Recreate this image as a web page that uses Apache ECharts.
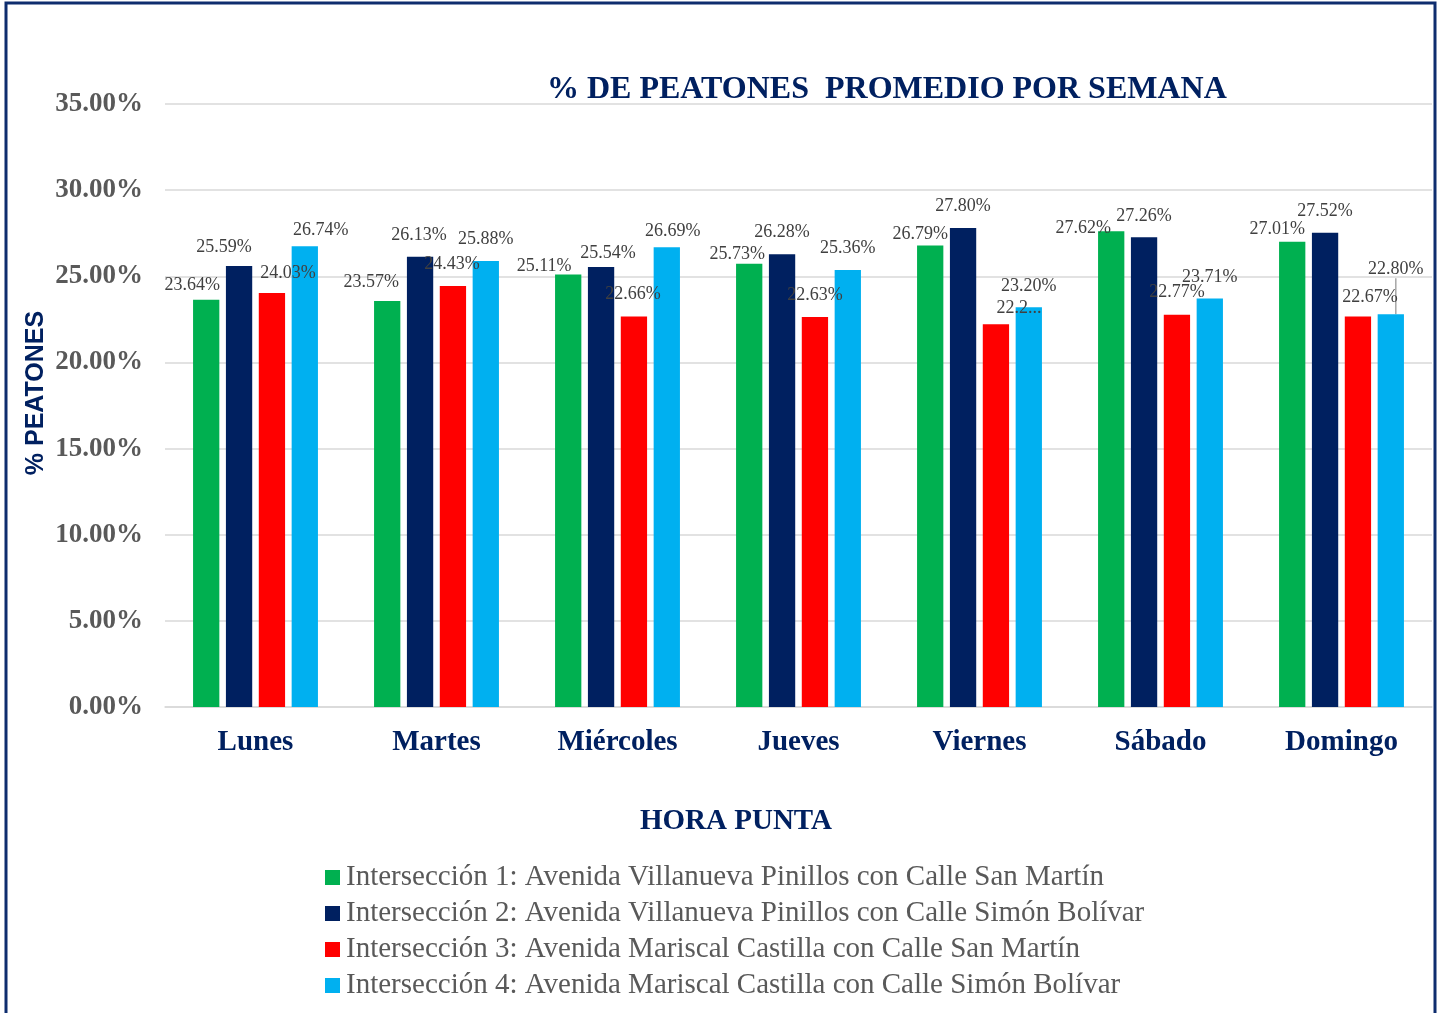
<!DOCTYPE html>
<html>
<head>
<meta charset="utf-8">
<script src="https://cdn.jsdelivr.net/npm/echarts@6/dist/echarts.min.js"></script>
<style>
  html, body { margin: 0; padding: 0; background: #fff; }
  #chart { width: 1445px; height: 1013px; }
</style>
</head>
<body>
<div id="chart"></div>
<script>
// categorías (días) y valores en % por intersección
const dias = ['Lunes', 'Martes', 'Miércoles', 'Jueves', 'Viernes', 'Sábado', 'Domingo']
const nombres = [
  'Intersección 1: Avenida Villanueva Pinillos con Calle San Martín',
  'Intersección 2: Avenida Villanueva Pinillos con Calle Simón Bolívar',
  'Intersección 3: Avenida Mariscal Castilla con Calle San Martín',
  'Intersección 4: Avenida Mariscal Castilla con Calle Simón Bolívar',
]
const int1 = [23.64, 23.57, 25.11, 25.73, 26.79, 27.62, 27.01]
const int2 = [25.59, 26.13, 25.54, 26.28, 27.80, 27.26, 27.52]
const int3 = [24.03, 24.43, 22.66, 22.63, 22.21, 22.77, 22.67]
const int4 = [26.74, 25.88, 26.69, 25.36, 23.20, 23.71, 22.80]
const yTicks = [0, 5, 10, 15, 20, 25, 30, 35]

const COLORES = ['#00B050', '#002060', '#FF0000', '#00B0F0']
const serif = '"Liberation Serif", "Times New Roman", serif'

// desplazamiento de etiquetas como en Excel [dx, dy] por serie / día
const DESPLAZA = [
  [[-14, 8], [-16, 3], [-24, 14], [-12, 13], [-10, 11], [-28, 19], [-15, 10]],
  [[-15, 3], [-1, 0], [7, 8], [0, 0], [0, 0], [0, 1], [0, 0]],
  [[16, 2], [-1, 0], [-1, 0], [0, 0], [23, 6], [0, 0], [12, 3]],
  [[16, 6], [0, 0], [6, 6], [0, 0], [0, 1], [0, 1], [5, -23]],
]

const chart = echarts.init(document.getElementById('chart'))

function serie(i, valores) {
  return {
    name: nombres[i],
    type: 'bar',
    barGap: '25%',
    barCategoryGap: '31%',
    itemStyle: { color: COLORES[i] },
    label: {
      show: true,
      position: 'top',
      distance: 13,
      fontFamily: serif,
      fontSize: 18,
      color: '#404040',
      formatter: p => p.value.toFixed(2) + '%',
    },
    labelLayout: p => {
      const d = DESPLAZA[p.seriesIndex][p.dataIndex]
      return { dx: d[0], dy: d[1] }
    },
    data: valores.map((v, j) => {
      // Viernes int. 3: etiqueta recortada; Domingo int. 4: línea guía
      if (i === 2 && j === 4) return { value: v, label: { width: 50, overflow: 'truncate' } }
      if (i === 3 && j === 6) return { value: v, labelLine: { show: true, lineStyle: { color: '#A6A6A6', width: 1.5 } } }
      return v
    }),
  }
}

chart.setOption({
  animation: false,
  title: [{
    text: '% DE PEATONES  PROMEDIO POR SEMANA',
    left: 542,
    top: 69,
    textStyle: { fontFamily: serif, fontSize: 32, fontWeight: 'bold', color: '#002060' },
  }, {
    text: 'HORA PUNTA',
    left: 635,
    top: 802,
    textStyle: { fontFamily: serif, fontSize: 29, fontWeight: 'bold', color: '#002060' },
  }],
  graphic: [{
    type: 'rect',
    shape: { x: 6, y: 3, width: 1429, height: 1030 },
    style: { fill: 'none', stroke: '#0E2D6E', lineWidth: 3 },
    silent: true,
  }, {
    type: 'text',
    x: 36,
    y: 393,
    rotation: Math.PI / 2,
    style: {
      text: '% PEATONES',
      fontFamily: '"Liberation Sans", Arial, sans-serif',
      fontSize: 25,
      fontWeight: 'bold',
      fill: '#002060',
      align: 'center',
      verticalAlign: 'middle',
    },
    silent: true,
  }],
  legend: {
    orient: 'vertical',
    left: 320,
    top: 858,
    itemWidth: 15,
    itemHeight: 15,
    itemGap: 7,
    icon: 'rect',
    textStyle: { fontFamily: serif, fontSize: 29, color: '#595959', padding: [0, 0, 0, 1] },
    data: nombres,
  },
  grid: { left: 165, right: 13, top: 104, bottom: 306 },
  xAxis: {
    type: 'category',
    data: dias,
    axisLine: { lineStyle: { color: '#D9D9D9', width: 1.5 } },
    axisTick: { show: false },
    axisLabel: { fontFamily: serif, fontSize: 29, fontWeight: 'bold', color: '#002060', margin: 21 },
  },
  yAxis: {
    type: 'value',
    min: yTicks[0],
    max: yTicks[yTicks.length - 1],
    interval: yTicks[1] - yTicks[0],
    axisLabel: {
      fontFamily: serif, fontSize: 27, fontWeight: 'bold', color: '#595959', margin: 22,
      formatter: v => v.toFixed(2) + '%',
    },
    splitLine: { lineStyle: { color: '#D9D9D9', width: 1.5 } },
  },
  series: [
    serie(0, int1),
    serie(1, int2),
    serie(2, int3),
    serie(3, int4),
  ],
})
</script>
</body>
</html>
